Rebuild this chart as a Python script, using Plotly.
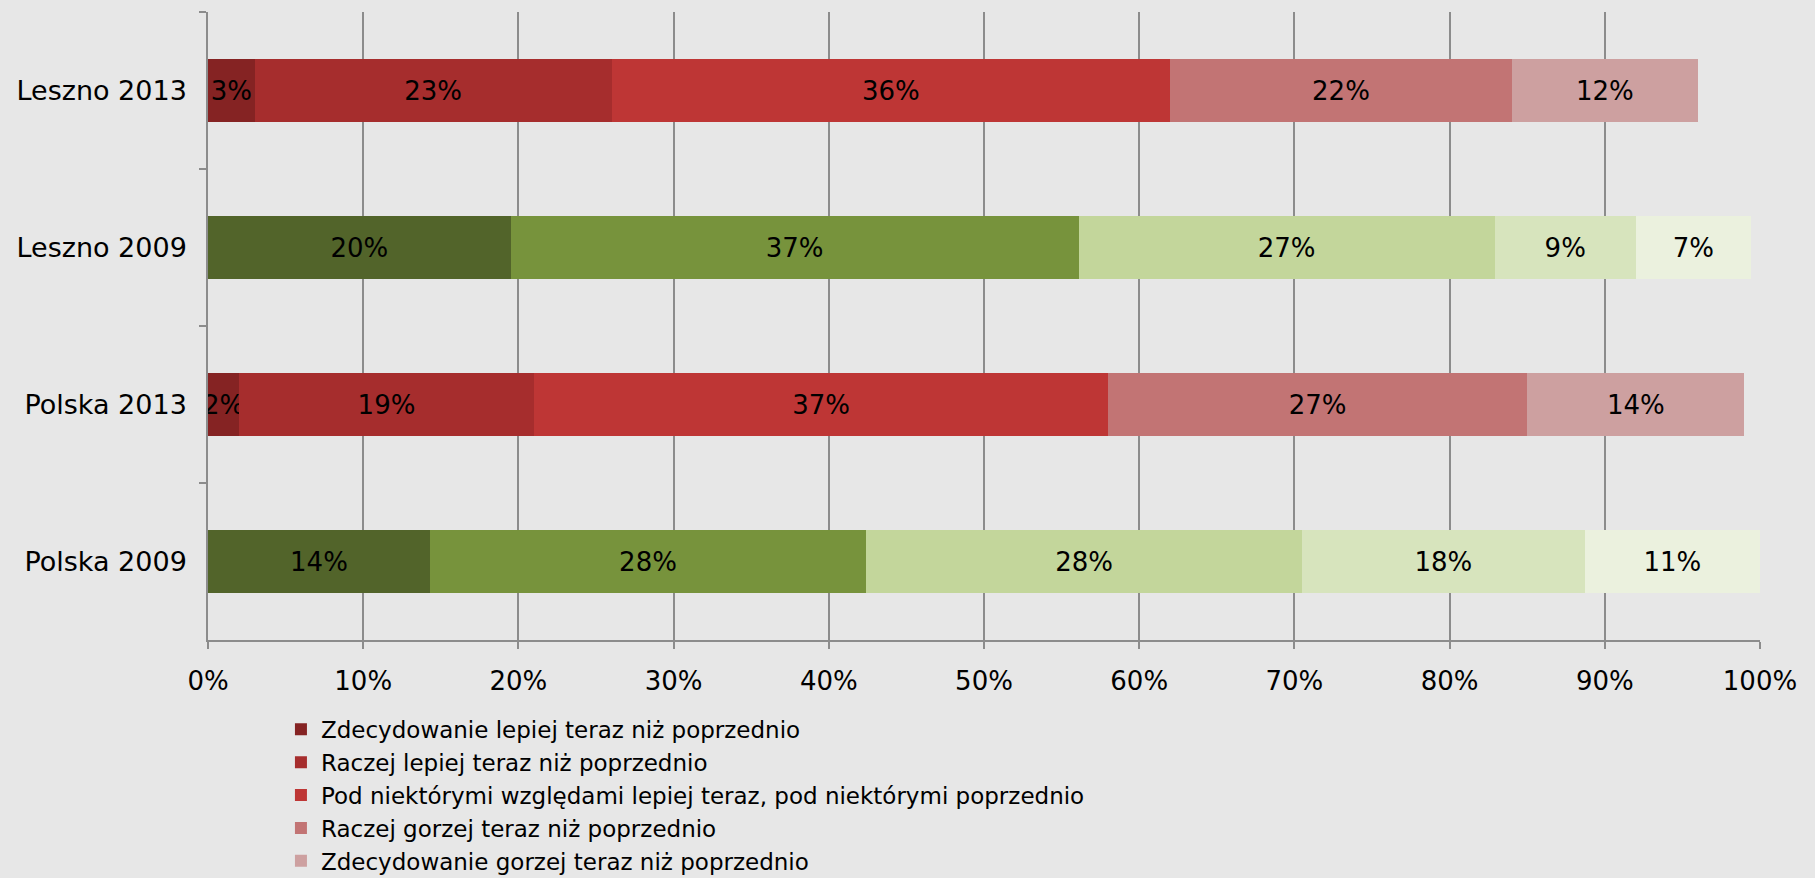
import plotly.graph_objects as go

categories = ["Leszno 2013", "Leszno 2009", "Polska 2013", "Polska 2009"]

red_names = [
    "Zdecydowanie lepiej teraz niż poprzednio",
    "Raczej lepiej teraz niż poprzednio",
    "Pod niektórymi względami lepiej teraz, pod niektórymi poprzednio",
    "Raczej gorzej teraz niż poprzednio",
    "Zdecydowanie gorzej teraz niż poprzednio",
]
# values for [Leszno 2013, Polska 2013]
red_values = [
    [3, 2],
    [23, 19],
    [36, 37],
    [22, 27],
    [12, 14],
]
red_colors = ["#852323", "#A62D2D", "#BE3635", "#C27474", "#CDA0A0"]

green_names = [
    "Zdecydowanie lepiej (2009)",
    "Raczej lepiej (2009)",
    "Pod niektórymi względami (2009)",
    "Raczej gorzej (2009)",
    "Zdecydowanie gorzej (2009)",
]
# values for [Leszno 2009, Polska 2009]
green_values = [
    [19.5, 14.3],
    [36.6, 28.1],
    [26.8, 28.1],
    [9.1, 18.2],
    [7.4, 11.3],
]
green_colors = ["#52642A", "#77933C", "#C3D69B", "#D7E4BD", "#EBF1DE"]

FONT = "DejaVu Sans, Verdana, sans-serif"
fig = go.Figure()

def add(names, values, colors, idx, legend):
    for name, vals, col in zip(names, values, colors):
        x = [None] * len(categories)
        for i, v in zip(idx, vals):
            x[i] = v
        fig.add_trace(go.Bar(
            y=categories, x=x, name=name, orientation="h",
            marker=dict(color=col, line=dict(width=0)),
            texttemplate="%{x:.0f}%", textposition="inside",
            insidetextanchor="middle", textangle=0, constraintext="none",
            textfont=dict(color="black", size=26, family=FONT),
            showlegend=legend,
        ))

add(red_names, red_values, red_colors, [0, 2], True)
add(green_names, green_values, green_colors, [1, 3], False)

fig.update_layout(
    width=1815, height=878,
    barmode="stack", bargap=0.595,
    paper_bgcolor="#E7E7E7", plot_bgcolor="#E7E7E7",
    margin=dict(l=208, r=55, t=12, b=238, autoexpand=False),
    font=dict(family=FONT, size=26, color="black"),
    legend=dict(
        x=0.047, y=-0.108, xanchor="left", yanchor="top",
        traceorder="normal", bgcolor="rgba(0,0,0,0)",
        font=dict(size=23, family=FONT, color="black"),
        itemwidth=30, tracegroupgap=0,
    ),
    xaxis=dict(
        range=[0, 100], dtick=10, ticksuffix="%",
        showgrid=True, gridcolor="#8C8C8C", gridwidth=1.5,
        zeroline=False, showline=True, linecolor="#8C8C8C", linewidth=1.5,
        ticks="outside", ticklen=7, tickcolor="#8C8C8C", tickwidth=1.5,
        ticklabelstandoff=10,
        tickfont=dict(size=26, family=FONT, color="black"),
    ),
    yaxis=dict(
        categoryorder="array", categoryarray=categories, autorange="reversed",
        showgrid=False, showline=True, linecolor="#8C8C8C", linewidth=1.5,
        ticks="outside", tickson="boundaries", ticklen=7,
        tickcolor="#8C8C8C", tickwidth=1.5, ticklabelstandoff=14,
        tickfont=dict(size=27, family=FONT, color="black"),
    ),
)

fig.write_html(
    "out.html",
    config={"displayModeBar": False},
    post_script="document.body.style.margin='0px';document.body.style.background='#E7E7E7';",
)
